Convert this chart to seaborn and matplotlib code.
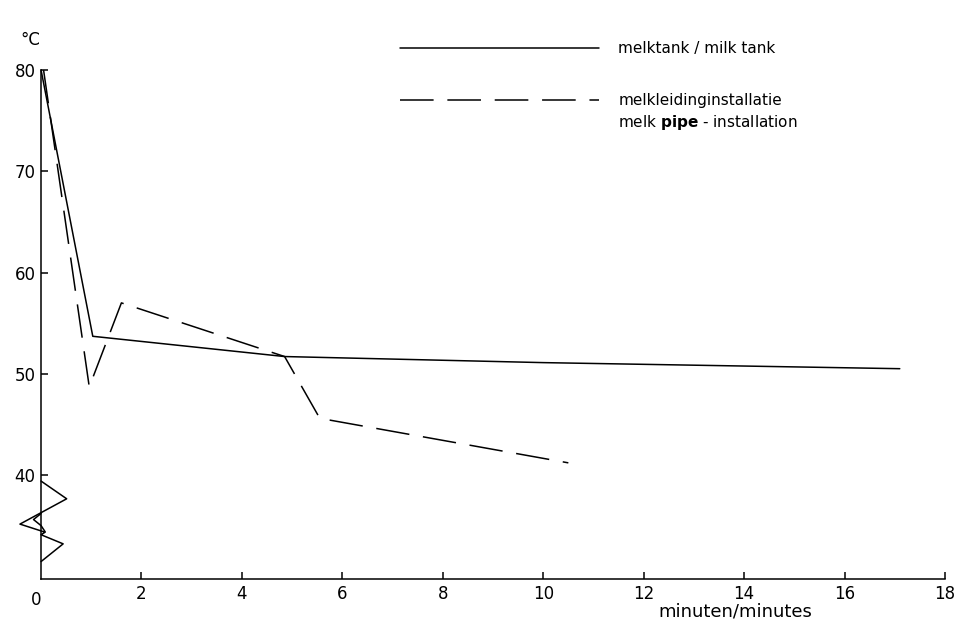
import pandas as pd
import matplotlib.pyplot as plt
import seaborn as sns

# -------------------------------
# values
# -------------------------------
tank_min = [0.0, 1.03, 4.85, 10.0, 17.1]
tank_temp = [80.0, 53.7, 51.7, 51.1, 50.5]

pipe_min = [0.05, 0.96, 1.6, 4.85, 5.55, 10.5]
pipe_temp = [80.0, 48.7, 57.0, 51.7, 45.6, 41.2]

x_ticks = [2, 4, 6, 8, 10, 12, 14, 16, 18]
y_ticks = [40, 50, 60, 70, 80]

# zigzag axis break at the foot of the y axis
break_x = [0.0, 0.51, -0.42, 0.08, 0.0, 0.44, 0.0]
break_y = [39.4, 37.65, 35.15, 34.35, 34.1, 33.2, 31.45]
notch_x = [0.0, -0.15, 0.0, 0.08]
notch_y = [36.2, 35.6, 35.0, 34.4]

tank = pd.DataFrame({'min': tank_min, 'temp': tank_temp})
pipe = pd.DataFrame({'min': pipe_min, 'temp': pipe_temp})

sns.set_theme(style='ticks')
plt.rcParams['font.family'] = ['DejaVu Sans']
plt.rcParams['text.color'] = 'black'

fig = plt.figure(figsize=(9.67, 6.3), dpi=100)
ax = fig.add_axes([0.0113, 0.0805, 0.9815, 0.8405])

sns.lineplot(data=tank, x='min', y='temp', sort=False, color='black',
             lw=1.1, label='melktank / milk tank', ax=ax)
sns.lineplot(data=pipe, x='min', y='temp', sort=False, color='black',
             lw=1.1, dashes=(22, 9), label='melkleidinginstallatie', ax=ax)
ax.plot(break_x, break_y, color='black', lw=1.1)
ax.plot(notch_x, notch_y, color='black', lw=1.1)

ax.set_xlim(-0.6, 18.3)
ax.set_ylim(29.7, 82)

for s in ['top', 'right']:
    ax.spines[s].set_visible(False)
ax.spines['left'].set_position(('data', 0))
ax.spines['left'].set_bounds(29.7, 80)
ax.spines['bottom'].set_bounds(0, 18)
for s in ['left', 'bottom']:
    ax.spines[s].set_linewidth(1.1)
    ax.spines[s].set_color('black')

ax.set_xticks(x_ticks)
ax.set_yticks(y_ticks)
ax.tick_params(axis='both', direction='in', length=5, width=1.1,
               colors='black', labelsize=12, pad=4)
ax.set_xlabel('')
ax.set_ylabel('')

ax.text(-0.1, 27.7, '0', fontsize=12, ha='center', va='center')
fig.text(30 / 967, 1 - 40 / 630, '°C', fontsize=12, ha='center', va='center')
fig.text(735 / 967, 1 - 612 / 630, 'minuten/minutes', fontsize=13,
         ha='center', va='center')
fig.text(618 / 967, 1 - 122 / 630, r'melk $\bf{pipe}$ - installation',
         fontsize=11, ha='left', va='center')

ax.legend(loc='upper left', bbox_to_anchor=(400 / 967, 1 - 41 / 630),
          bbox_transform=fig.transFigure, frameon=False, fontsize=11,
          labelcolor='black', handlelength=13, handletextpad=1.3,
          labelspacing=2.45, borderpad=0, borderaxespad=0)

fig.savefig('out.png', dpi=100)
